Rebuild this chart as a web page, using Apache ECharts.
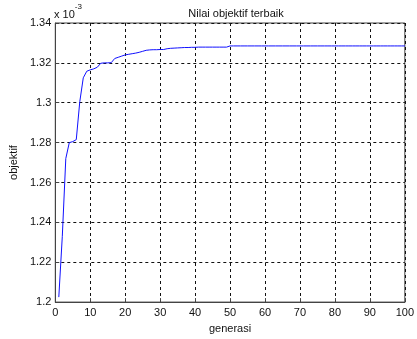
<!DOCTYPE html>
<html>
<head>
<meta charset="utf-8">
<script src="https://cdn.jsdelivr.net/npm/echarts@6/dist/echarts.min.js"></script>
<style>html,body{margin:0;padding:0;background:#fff}#c{width:417px;height:339px}</style>
</head>
<body>
<div id="c"></div>
<script>
const titleText = "Nilai objektif terbaik";
const xName = "generasi";
const yName = "objektif";
const generations = Array.from({length: 100}, (_, i) => i + 1);
const values = [
  1.2025, 1.233, 1.272, 1.2800, 1.2805, 1.2815, 1.3005, 1.3125, 1.3158, 1.3165,
  1.3170, 1.3178, 1.3198, 1.3200, 1.3200, 1.3201, 1.3222, 1.3228, 1.3234, 1.3240,
  1.3243, 1.3246, 1.3249, 1.3253, 1.3258, 1.3263, 1.3265, 1.3266, 1.3266, 1.3267,
  1.3267, 1.3271, 1.3273, 1.3274, 1.3275, 1.3276, 1.3277, 1.3277, 1.3278, 1.3278,
  1.3279, 1.3279, 1.3279, 1.3279, 1.3279, 1.3279, 1.3279, 1.3279, 1.3279, 1.3285,
  1.3285, 1.3285, 1.3285, 1.3285, 1.3285, 1.3285, 1.3285, 1.3285, 1.3285, 1.3285,
  1.3285, 1.3285, 1.3285, 1.3285, 1.3285, 1.3285, 1.3285, 1.3285, 1.3285, 1.3285,
  1.3285, 1.3285, 1.3285, 1.3285, 1.3285, 1.3285, 1.3285, 1.3285, 1.3285, 1.3285,
  1.3285, 1.3285, 1.3285, 1.3285, 1.3285, 1.3285, 1.3285, 1.3285, 1.3285, 1.3285,
  1.3285, 1.3285, 1.3285, 1.3285, 1.3285, 1.3285, 1.3285, 1.3285, 1.3285, 1.3285
];
const yMin = 1.2, yMax = 1.34, yStep = 0.02;
const xMin = 0, xMax = 100, xStep = 10;

const font = 'Liberation Sans, Arial, sans-serif';
const chart = echarts.init(document.getElementById('c'), null, {renderer: 'canvas'});
const gridStyle = {show: true, lineStyle: {color: '#111', type: [3, 3], width: 1}};
chart.setOption({
  animation: false,
  backgroundColor: '#fff',
  title: {
    text: titleText, left: 231, top: 3, textAlign: 'center',
    textStyle: {fontFamily: font, fontSize: 11, fontWeight: 'normal', color: '#111'}
  },
  grid: {left: 54, right: 8, top: 23, bottom: 36, show: true, borderColor: '#444', borderWidth: 1},
  graphic: [{
    type: 'text', left: 54, top: 3,
    style: {
      text: '{a|x 10}{b|-3}',
      rich: {
        a: {fontFamily: font, fontSize: 11, fill: '#111', verticalAlign: 'bottom', padding: [6, 0, 0, 0]},
        b: {fontFamily: font, fontSize: 8, fill: '#111', verticalAlign: 'top'}
      }
    }
  }],
  xAxis: {
    type: 'value', min: xMin, max: xMax, interval: xStep,
    name: xName, nameLocation: 'middle', nameGap: 19,
    nameTextStyle: {fontFamily: font, fontSize: 11, color: '#111'},
    axisLine: {show: true, lineStyle: {color: '#444'}},
    axisTick: {show: true, inside: true, length: 4, lineStyle: {color: '#444'}},
    axisLabel: {fontFamily: font, fontSize: 11, color: '#111', margin: 5},
    splitLine: gridStyle
  },
  yAxis: {
    type: 'value', min: yMin, max: yMax, interval: yStep,
    name: yName, nameLocation: 'middle', nameGap: 26, nameRotate: 90,
    nameTextStyle: {fontFamily: font, fontSize: 11, color: '#111'},
    axisLine: {show: true, lineStyle: {color: '#444'}},
    axisTick: {show: true, inside: true, length: 4, lineStyle: {color: '#444'}},
    axisLabel: {fontFamily: font, fontSize: 11, color: '#111', margin: 4,
      formatter: v => String(+v.toFixed(2))},
    splitLine: gridStyle
  },
  series: [{
    type: 'line', data: generations.map((g, i) => [g, values[i]]),
    showSymbol: false, symbol: 'none',
    lineStyle: {color: '#1010ff', width: 1}, z: 5
  }]
});
</script>
</body>
</html>
